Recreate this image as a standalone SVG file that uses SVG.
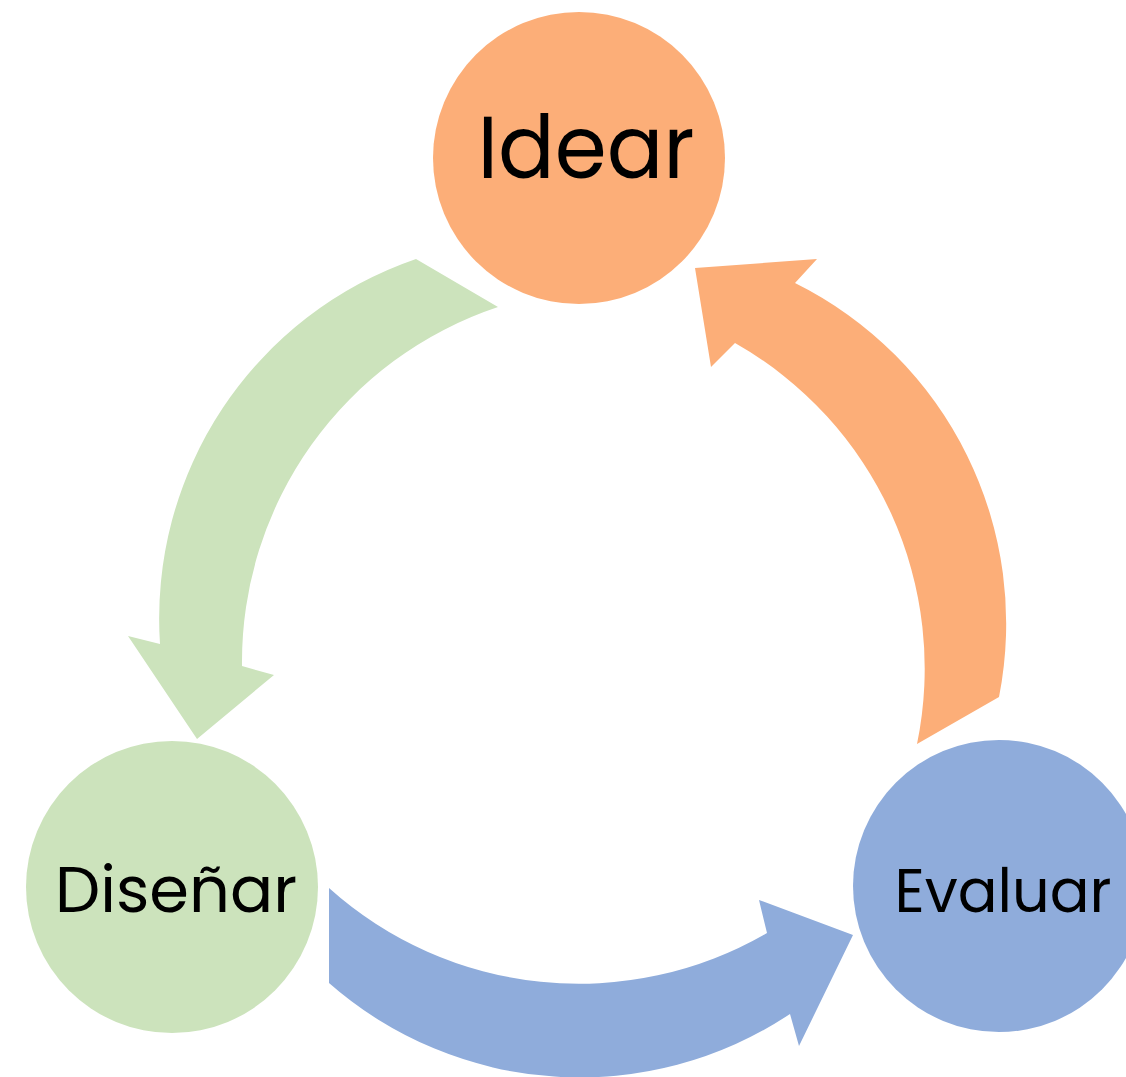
<svg xmlns="http://www.w3.org/2000/svg" width="1126" height="1077" viewBox="0 0 1126 1077">
<style>
.lbl{font-family:"Poppins","Inter","Noto Sans",sans-serif;font-weight:400;fill:#000;text-anchor:middle}
.o{fill:#FCAE78}.g{fill:#CCE3BC}.b{fill:#8FACDB}
</style>
<rect width="1126" height="1077" fill="#fff"/>
<g id="connectors">
<path id="arrow-idear-disenar" class="g" d="M416,259 L498,307 A374,374 0 0 0 242,666 L274,675 L197,739 L128,636 L160,644 A380,380 0 0 1 416,259 Z"/>
<path id="arrow-disenar-evaluar" class="b" d="M329,888 A374,374 0 0 0 767,933 L759,900 L853,935 L799,1046 L790,1014 A380,380 0 0 1 329,983 Z"/>
<path id="arrow-evaluar-idear" class="o" d="M917,744 A374,374 0 0 0 735,343 L711,367 L695,268 L817,259 L795,283 A380,380 0 0 1 999,697 Z"/>
</g>
<g id="node-idear">
<circle class="o" cx="579" cy="158" r="146"/>
<text class="lbl" x="586" y="178" font-size="88" textLength="217" lengthAdjust="spacingAndGlyphs">Idear</text>
</g>
<g id="node-disenar">
<circle class="g" cx="172" cy="887" r="146"/>
<text class="lbl" x="176" y="912" font-size="64" textLength="242" lengthAdjust="spacingAndGlyphs">Diseñar</text>
</g>
<g id="node-evaluar">
<circle class="b" cx="999" cy="886" r="146"/>
<text class="lbl" x="1003" y="912" font-size="60" textLength="217" lengthAdjust="spacingAndGlyphs">Evaluar</text>
</g>
</svg>
